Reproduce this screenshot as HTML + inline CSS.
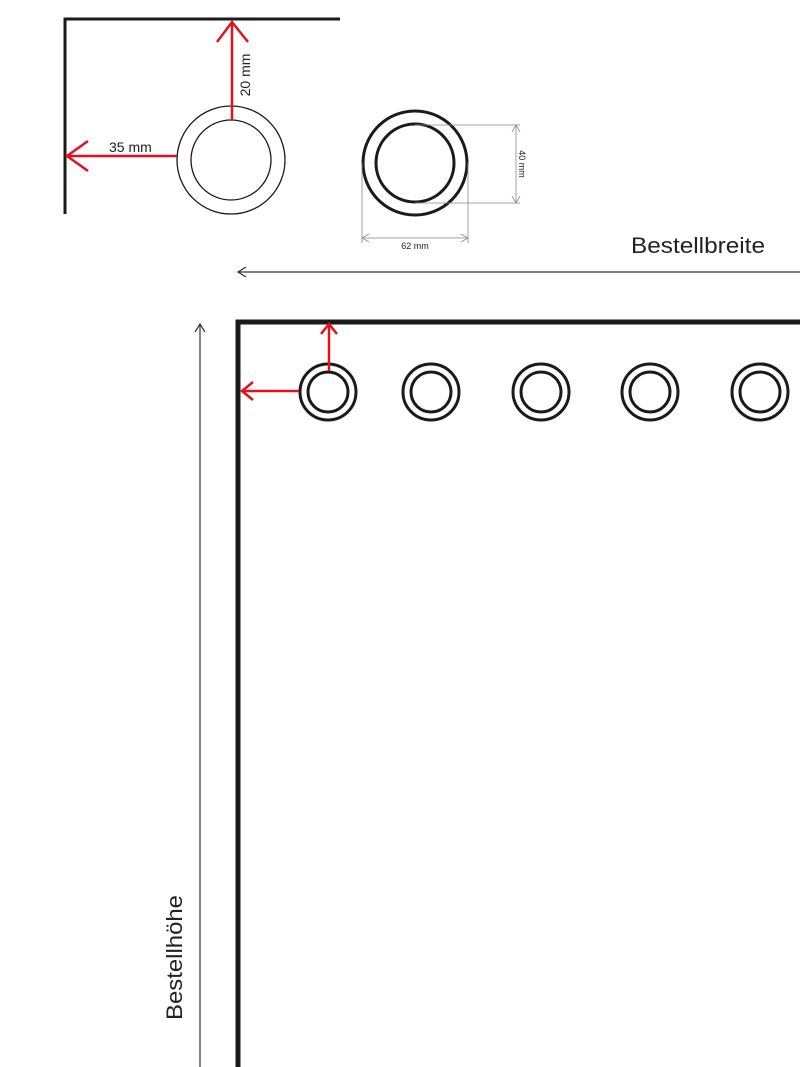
<!DOCTYPE html>
<html><head><meta charset="utf-8"><style>
html,body{margin:0;padding:0;background:#fff;width:800px;height:1067px;overflow:hidden}
svg{display:block}
text{font-family:"Liberation Sans",sans-serif;fill:#222}
</style></head><body>
<svg width="800" height="1067" viewBox="0 0 800 1067" xmlns="http://www.w3.org/2000/svg">
<polyline points="65,214 65,19 340,19" fill="none" stroke="#1a1a1a" stroke-width="3"/>
<circle cx="231" cy="160" r="54" fill="none" stroke="#1a1a1a" stroke-width="1.3"/>
<circle cx="231" cy="160" r="40" fill="none" stroke="#1a1a1a" stroke-width="1.3"/>
<g stroke="#e3101e" stroke-width="2.5" fill="none">
<line x1="232" y1="120" x2="232" y2="22"/>
<polyline points="217,42 232,22 248,42"/>
<line x1="177" y1="156" x2="67" y2="156"/>
<polyline points="88,141 67,156 88,171"/>
</g>
<text x="109" y="152" font-size="14">35 mm</text>
<text transform="translate(250,75) rotate(-90)" font-size="14" text-anchor="middle">20 mm</text>

<circle cx="415" cy="163" r="52" fill="none" stroke="#1a1a1a" stroke-width="3"/>
<circle cx="415" cy="163" r="39" fill="none" stroke="#1a1a1a" stroke-width="3"/>
<g stroke="#888" stroke-width="0.8" fill="none">
<line x1="415" y1="125" x2="520" y2="125"/>
<line x1="415" y1="203" x2="520" y2="203"/>
<line x1="516" y1="125" x2="516" y2="203"/>
<polyline points="512,132 516,125 520,132"/>
<polyline points="512,196 516,203 520,196"/>
<line x1="362" y1="163" x2="362" y2="243"/>
<line x1="468" y1="163" x2="468" y2="243"/>
<line x1="362" y1="238" x2="468" y2="238"/>
<polyline points="369,234 362,238 369,242"/>
<polyline points="461,234 468,238 461,242"/>
</g>
<text x="415" y="249" font-size="9" text-anchor="middle">62 mm</text>
<text transform="translate(519,164) rotate(90)" font-size="9" text-anchor="middle">40 mm</text>

<text x="631" y="253" font-size="22" textLength="134" lengthAdjust="spacingAndGlyphs">Bestellbreite</text>
<g stroke="#333" stroke-width="1.2" fill="none">
<line x1="238" y1="272" x2="800" y2="272"/>
<polyline points="246,267 238,272 246,277"/>
<line x1="200" y1="324" x2="200" y2="1067"/>
<polyline points="195,332 200,324 205,332"/>
</g>
<text transform="translate(182,1020) rotate(-90)" font-size="22" textLength="125" lengthAdjust="spacingAndGlyphs">Bestellhöhe</text>

<polyline points="238,1067 238,322 800,322" fill="none" stroke="#1a1a1a" stroke-width="5"/>
<g fill="none" stroke="#1a1a1a" stroke-width="3">
<circle cx="328" cy="392" r="28"/><circle cx="328" cy="392" r="20"/>
<circle cx="431" cy="392" r="28"/><circle cx="431" cy="392" r="20"/>
<circle cx="541" cy="392" r="28"/><circle cx="541" cy="392" r="20"/>
<circle cx="650" cy="392" r="28"/><circle cx="650" cy="392" r="20"/>
<circle cx="760" cy="392" r="28"/><circle cx="760" cy="392" r="20"/>
</g>
<g stroke="#e3101e" stroke-width="2.5" fill="none">
<line x1="329" y1="371" x2="329" y2="324"/>
<polyline points="321,334 329,324 337,334"/>
<line x1="299" y1="391" x2="242" y2="391"/>
<polyline points="253,382 242,391 253,400"/>
</g>
</svg>
</body></html>
